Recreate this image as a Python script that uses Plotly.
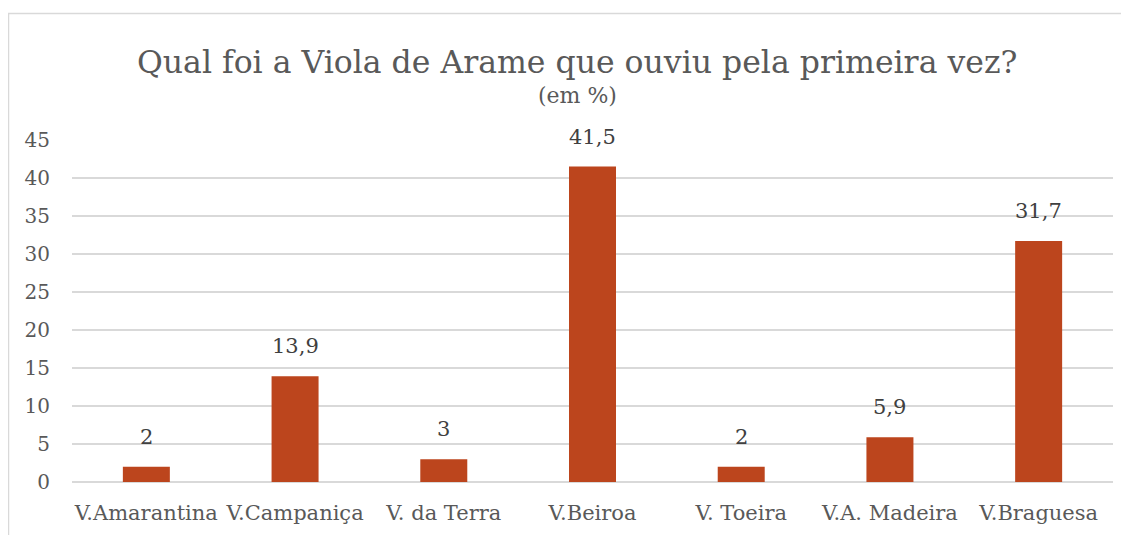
import plotly.graph_objects as go

categories = ["V.Amarantina", "V.Campaniça", "V. da Terra", "V.Beiroa", "V. Toeira", "V.A. Madeira", "V.Braguesa"]
values = [2, 13.9, 3, 41.5, 2, 5.9, 31.7]
labels = [("%g" % v).replace(".", ",") for v in values]
y_ticks = list(range(0, 50, 5))

BAR = "#BC451D"
TXT = "#595959"
GRID = "#D9D9D9"
FONT = "DejaVu Serif"

# page body has an 8px margin: design in figure coordinates (window - 8)
L, T, R, B = 64, 132, 24, 61
PW, PH = 1129 - L - R, 535 - T - B


def px(xw):
    return (xw - 8 - L) / PW


def py(yw):
    return (T + PH - (yw - 8)) / PH


fig = go.Figure()
fig.add_trace(go.Bar(x=categories, y=values, marker=dict(color=BAR, line=dict(width=0)),
                     hoverinfo="skip"))

for c, v, t in zip(categories, values, labels):
    fig.add_annotation(x=c, y=v, text=t, showarrow=False, yanchor="bottom", yshift=16,
                       font=dict(family=FONT, size=21, color="#404040"))

fig.add_annotation(xref="paper", yref="paper", x=px(577), y=py(62),
                   text="Qual foi a Viola de Arame que ouviu pela primeira vez?", showarrow=False,
                   xanchor="center", yanchor="middle", font=dict(family=FONT, size=31.5, color=TXT))
fig.add_annotation(xref="paper", yref="paper", x=px(577), y=py(96),
                   text="(em %)", showarrow=False, xanchor="center", yanchor="middle",
                   font=dict(family=FONT, size=22, color=TXT))

fig.add_shape(type="rect", xref="paper", yref="paper",
              x0=px(8.5), x1=px(1145), y0=py(550), y1=py(13.5),
              line=dict(color=GRID, width=1.5), fillcolor="rgba(0,0,0,0)", layer="below")

fig.update_layout(
    width=1129, height=535,
    margin=dict(l=L, r=R, t=T, b=B, autoexpand=False),
    paper_bgcolor="white", plot_bgcolor="white",
    bargap=0.684, showlegend=False,
    font=dict(family=FONT, color=TXT),
)
fig.update_xaxes(showgrid=False, showline=False, automargin=False,
                 tickfont=dict(family=FONT, size=21, color=TXT),
                 ticks="outside", ticklen=12, tickcolor="rgba(0,0,0,0)")
fig.update_yaxes(range=[0, 45], tickvals=y_ticks, showgrid=True, gridcolor=GRID, gridwidth=1.5,
                 zeroline=True, zerolinecolor=GRID, zerolinewidth=1.5, showline=False,
                 automargin=False, tickfont=dict(family=FONT, size=20, color=TXT),
                 ticks="outside", ticklen=17, tickcolor="rgba(0,0,0,0)")

fig.write_html("out.html")
